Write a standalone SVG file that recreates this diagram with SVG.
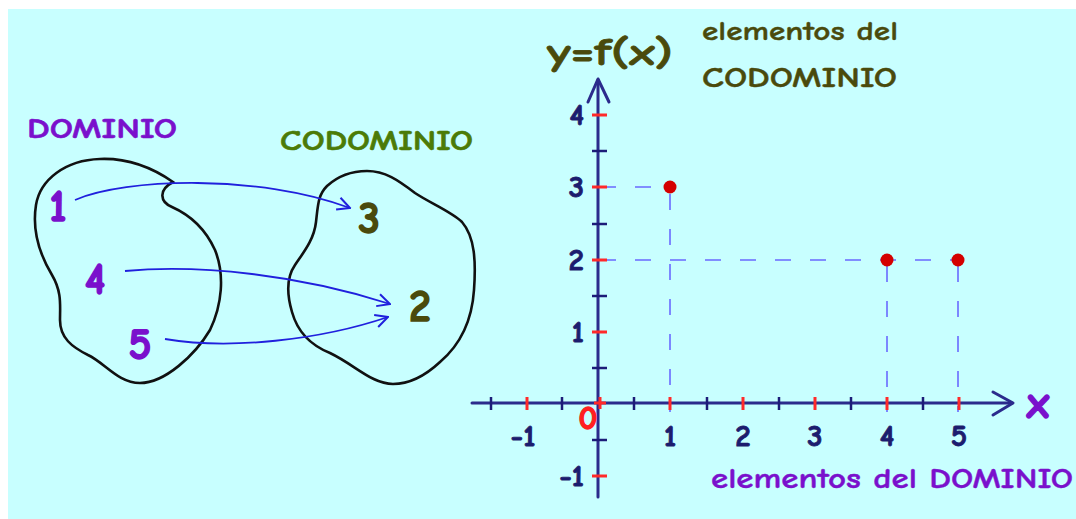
<svg xmlns="http://www.w3.org/2000/svg" width="1076" height="519" viewBox="0 0 1076 519">
<defs>
<style>
.t{font-family:'Comic Sans MS','Comic Neue','DejaVu Sans',sans-serif;}
.b{font-weight:bold;}
.pur{fill:#7a10cc;}
.olv{fill:#4a4a0c;}
.grn{fill:#4b7b07;}
.num{font-size:44px;font-weight:bold;stroke-width:1.4;}
.pur.num{stroke:#7a10cc;}
.olv.num{stroke:#4a4a0c;}
.nav{fill:#1c1c6e;stroke:#1c1c6e;stroke-width:0.9;font-weight:bold;font-size:31px;}
.blob{fill:none;stroke:#111;stroke-width:2.6;}
.conn{fill:none;stroke:#2020dd;stroke-width:1.8;}
.axis{fill:none;stroke:#2b2b8c;stroke-width:3;stroke-linecap:round;stroke-linejoin:round;}
.rt{stroke:#ff2a2a;stroke-width:3;}
.nt{stroke:#1c1c78;stroke-width:2.5;}
.dash{stroke:#6a6aff;stroke-width:1.6;stroke-dasharray:16 19;fill:none;}
.pt{fill:#d40000;}
</style>
<marker id="ah" viewBox="0 0 12 12" refX="11" refY="6" markerWidth="15" markerHeight="15" markerUnits="userSpaceOnUse" orient="auto">
<path d="M1,1 L11,6 L1,11" fill="none" stroke="#2020dd" stroke-width="1.6"/>
</marker>
</defs>
<rect x="0" y="0" width="1076" height="519" fill="#ffffff"/>
<rect x="8" y="9" width="1068" height="510" fill="#c8ffff"/>

<g id="dominio">
<path class="blob" d="M173,182 C150,166 125,158 100,159 C65,160 40,180 36,205 C32,230 40,255 52,275 C62,292 60,305 60,320 C60,338 72,347 88,355 C105,363 118,383 140,383 C165,383 195,355 210,330 C222,305 225,275 215,250 C205,228 190,215 172,207 C160,202 158,190 173,182 Z"/>
<text class="t b pur" x="27" y="138" font-size="29" textLength="150" lengthAdjust="spacingAndGlyphs" stroke="#7a10cc" stroke-width="0.6">DOMINIO</text>
<text class="t pur num" x="58" y="221" text-anchor="middle">1</text>
<text class="t pur num" x="95" y="294" text-anchor="middle">4</text>
<text class="t pur num" x="140" y="359" text-anchor="middle">5</text>
</g>

<g id="codominio">
<path class="blob" d="M367,171 C385,171 398,180 415,193 C430,203 452,212 462,222 C475,237 476,262 474,290 C472,320 460,345 440,362 C425,376 410,384 393,384 C372,384 355,365 330,353 C310,345 297,330 292,312 C287,295 286,278 295,265 C303,253 314,240 316,222 C318,205 318,195 327,186 C338,176 352,171 367,171 Z"/>
<text class="t b grn" x="280" y="150" font-size="29" textLength="193" lengthAdjust="spacingAndGlyphs" stroke="#4b7b07" stroke-width="0.6">CODOMINIO</text>
<text class="t olv num" x="369" y="233" text-anchor="middle">3</text>
<text class="t olv num" x="420" y="321" text-anchor="middle">2</text>
</g>

<g id="connectors">
<path class="conn" marker-end="url(#ah)" d="M75,200 C125,178 260,174 350,208"/>
<path class="conn" marker-end="url(#ah)" d="M125,271 C200,264 300,275 390,304"/>
<path class="conn" marker-end="url(#ah)" d="M165,339 C230,350 320,340 388,317"/>
</g>

<g id="graph">
<g id="guides">
<line class="dash" x1="600" y1="187" x2="664" y2="187"/>
<line class="dash" x1="600" y1="260" x2="952" y2="260"/>
<line class="dash" x1="670" y1="194" x2="670" y2="412"/>
<line class="dash" x1="887" y1="266" x2="887" y2="412"/>
<line class="dash" x1="958" y1="266" x2="958" y2="412"/>
</g>
<g id="axes">
<line class="axis" x1="472" y1="403" x2="1012" y2="403"/>
<polyline class="axis" points="993,392 1013,403 993,415"/>
<line class="axis" x1="598" y1="497" x2="598" y2="80"/>
<polyline class="axis" points="588,102 598,79 609,102"/>
</g>
<g id="xticks">
<line class="nt" x1="491" y1="397" x2="491" y2="410"/>
<line class="rt" x1="527" y1="397" x2="527" y2="410"/>
<line class="nt" x1="562" y1="397" x2="562" y2="410"/>
<line class="nt" x1="634" y1="397" x2="634" y2="410"/>
<line class="rt" x1="670" y1="397" x2="670" y2="410"/>
<line class="nt" x1="707" y1="397" x2="707" y2="410"/>
<line class="rt" x1="743" y1="397" x2="743" y2="410"/>
<line class="nt" x1="779" y1="397" x2="779" y2="410"/>
<line class="rt" x1="815" y1="397" x2="815" y2="410"/>
<line class="nt" x1="851" y1="397" x2="851" y2="410"/>
<line class="rt" x1="887" y1="397" x2="887" y2="410"/>
<line class="nt" x1="923" y1="397" x2="923" y2="410"/>
<line class="rt" x1="959" y1="397" x2="959" y2="410"/>
</g>
<g id="yticks">
<line class="rt" x1="592" y1="115" x2="607" y2="115"/>
<line class="nt" x1="592" y1="151" x2="607" y2="151"/>
<line class="rt" x1="592" y1="187" x2="607" y2="187"/>
<line class="nt" x1="592" y1="224" x2="607" y2="224"/>
<line class="rt" x1="592" y1="260" x2="607" y2="260"/>
<line class="nt" x1="592" y1="296" x2="607" y2="296"/>
<line class="rt" x1="592" y1="332" x2="607" y2="332"/>
<line class="nt" x1="592" y1="368" x2="607" y2="368"/>
<line class="nt" x1="592" y1="440" x2="607" y2="440"/>
<line class="rt" x1="592" y1="476" x2="607" y2="476"/>
<line class="rt" x1="594" y1="403" x2="606" y2="403"/>
<line class="rt" x1="600" y1="397" x2="600" y2="409"/>
</g>
<g id="points">
<circle class="pt" cx="670" cy="187" r="6.5"/>
<circle class="pt" cx="887" cy="260" r="6.5"/>
<circle class="pt" cx="958" cy="260" r="6.5"/>
</g>
<g id="labels">
<text class="t olv b" x="547" y="65" font-size="38" textLength="126" lengthAdjust="spacingAndGlyphs" stroke="#4a4a0c" stroke-width="0.8">y=f(x)</text>
<text class="t olv" x="702" y="40" font-size="27" textLength="196" lengthAdjust="spacingAndGlyphs" stroke="#4a4a0c" stroke-width="0.4" style="font-weight:600">elementos del</text>
<text class="t olv" x="702" y="87" font-size="28" textLength="195" lengthAdjust="spacingAndGlyphs" stroke="#4a4a0c" stroke-width="0.4" style="font-weight:600">CODOMINIO</text>
<text class="t pur" x="711" y="488" font-size="28" textLength="362" lengthAdjust="spacingAndGlyphs" stroke="#7a10cc" stroke-width="0.4" style="font-weight:600">elementos del DOMINIO</text>
<text class="t b pur" x="1038" y="418" font-size="46" text-anchor="middle" stroke="#7a10cc" stroke-width="1.4">x</text>
<text class="t b" x="588" y="429" font-size="33" text-anchor="middle" fill="#ff2020" stroke="#ff2020" stroke-width="1.4">0</text>
<text class="t nav" x="523" y="446" text-anchor="middle">-1</text>
<text class="t nav" x="670" y="446" text-anchor="middle">1</text>
<text class="t nav" x="743" y="446" text-anchor="middle">2</text>
<text class="t nav" x="815" y="446" text-anchor="middle">3</text>
<text class="t nav" x="887" y="446" text-anchor="middle">4</text>
<text class="t nav" x="959" y="446" text-anchor="middle">5</text>
<text class="t nav" x="584" y="125" text-anchor="end">4</text>
<text class="t nav" x="584" y="197" text-anchor="end">3</text>
<text class="t nav" x="584" y="270" text-anchor="end">2</text>
<text class="t nav" x="584" y="342" text-anchor="end">1</text>
<text class="t nav" x="584" y="486" text-anchor="end">-1</text>
</g>
</g>
</svg>
